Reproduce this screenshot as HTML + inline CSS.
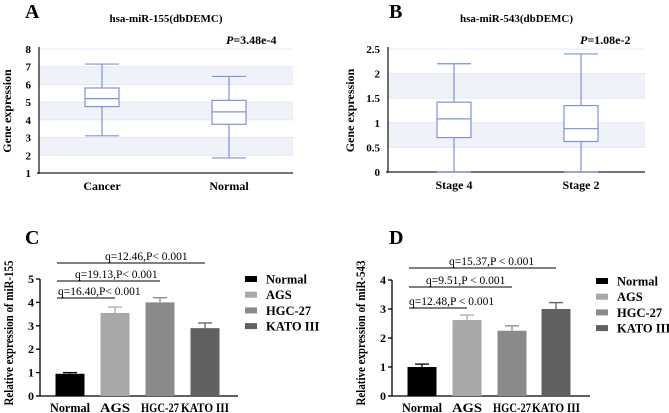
<!DOCTYPE html>
<html><head><meta charset="utf-8"><style>
body{margin:0;background:#fff}
svg{display:block;font-family:"Liberation Serif",serif}
text{font-family:"Liberation Serif",serif}
</style></head><body>
<svg id="s" width="669" height="413" viewBox="0 0 669 413"></svg>
<script>
const boxCatsA=["Cancer","Normal"];
const boxStatsA=[[3.1,4.75,5.2,5.8,7.15],[1.85,3.75,4.45,5.1,6.45]];
const ticksA=[1,2,3,4,5,6,7,8];
const boxCatsB=["Stage 4","Stage 2"];
const boxStatsB=[[0,0.7,1.08,1.42,2.2],[0,0.62,0.88,1.35,2.4]];
const ticksB=[0,0.5,1,1.5,2,2.5];
const barCats=["Normal","AGS","HGC-27","KATO III"];
const barColors=["#000","#a8a8a8","#8a8a8a","#606060"];
const valsC=[0.95,3.55,4.0,2.9];
const errC=[0.05,0.25,0.2,0.22];
const ticksC=[0,1,2,3,4,5];
const sigC=["q=16.40,P< 0.001","q=19.13,P< 0.001","q=12.46,P< 0.001"];
const valsD=[1.0,2.62,2.25,3.0];
const errD=[0.1,0.17,0.17,0.22];
const ticksD=[0,1,2,3,4];
const sigD=["q=12.48,P < 0.001","q=9.51,P < 0.001","q=15.37,P < 0.001"];

const S=document.getElementById('s');const NS="http://www.w3.org/2000/svg";
function mk(t,a,txt,name,parent){const e=document.createElementNS(NS,t);for(const k in a)e.setAttribute(k,a[k]);if(txt!=null)e.textContent=txt;


(parent||S).appendChild(e);return e;}

function boxPanel(o){
  const y=v=>o.y0+(v-o.vmin)/(o.vmax-o.vmin)*(o.y1-o.y0);
  const t=o.ticks;
  for(let i=0;i<t.length-1;i++){ if((t.length-2-i)%2==1) mk('rect',{x:o.x0,y:y(t[i+1]),width:o.x1-o.x0,height:y(t[i])-y(t[i+1]),fill:'#f0f2f9'},null,'grid-band');}
  t.forEach(v=>{ if(v!==o.vmin) mk('line',{x1:o.x0,x2:o.x1,y1:y(v),y2:y(v),stroke:'#dfe3f1','stroke-width':0.8},null,'grid-line');
    mk('text',{x:o.x0-8,y:y(v)+4,'text-anchor':'end','font-size':11,'font-weight':'bold'},String(v),'y-tick-label');});
  mk('line',{x1:o.x0,x2:o.x0,y1:o.y1-2,y2:o.y0+1,stroke:'#222','stroke-width':1.3},null,'y-axis');
  mk('line',{x1:o.x0-2,x2:o.x1,y1:o.y0,y2:o.y0,stroke:'#222','stroke-width':1.3},null,'x-axis');
  o.cats.forEach((c,i)=>{const cx=o.cx[i],s=o.stats[i],hw=17,c2='#7b93dc';
    mk('line',{x1:cx,x2:cx,y1:y(s[0]),y2:y(s[4]),stroke:c2,'stroke-width':1.2},null,'whisker');
    mk('line',{x1:cx-hw,x2:cx+hw,y1:y(s[4]),y2:y(s[4]),stroke:c2,'stroke-width':1.2},null,'whisker-cap-max');
    mk('line',{x1:cx-hw,x2:cx+hw,y1:y(s[0]),y2:y(s[0]),stroke:c2,'stroke-width':1.2},null,'whisker-cap-min');
    mk('rect',{x:cx-hw,y:y(s[3]),width:2*hw,height:y(s[1])-y(s[3]),fill:'#fff',stroke:c2,'stroke-width':1.2},null,'box-'+c.toLowerCase().replace(/\s/g,'-'));
    mk('line',{x1:cx-hw,x2:cx+hw,y1:y(s[2]),y2:y(s[2]),stroke:c2,'stroke-width':1.2},null,'median');
    mk('text',{x:cx,y:o.y0+17,'text-anchor':'middle','font-size':12,'font-weight':'bold'},c,'x-tick-label');});
  mk('text',{x:o.lx,y:18,'font-size':20,'font-weight':'bold'},o.letter,'panel-label');
  mk('text',{x:(o.x0+o.x1)/2,y:22,'text-anchor':'middle','font-size':11,'font-weight':'bold'},o.title,'chart-title');
  const p=mk('text',{x:o.px,y:44,'font-size':12,'font-weight':'bold'},null,'p-value');
  mk('tspan',{'font-style':'italic'},'P','p-symbol',p);mk('tspan',{},o.ptxt,'p-text',p);
  mk('text',{x:o.yt,y:(o.y0+o.y1)/2,'text-anchor':'middle','font-size':12,'font-weight':'bold',transform:`rotate(-90 ${o.yt} ${(o.y0+o.y1)/2})`},'Gene expression','y-axis-title');
}
boxPanel({x0:39,x1:293,y0:173,y1:49,vmin:1,vmax:8,ticks:ticksA,cats:boxCatsA,stats:boxStatsA,cx:[102,229],letter:'A',lx:25,title:'hsa-miR-155(dbDEMC)',px:226,ptxt:'=3.48e-4',yt:11});
boxPanel({x0:388,x1:645,y0:172,y1:49,vmin:0,vmax:2.5,ticks:ticksB,cats:boxCatsB,stats:boxStatsB,cx:[454,581],letter:'B',lx:389,title:'hsa-miR-543(dbDEMC)',px:580,ptxt:'=1.08e-2',yt:354});

const labelW=[40,30,38,48];
function barPanel(o){
  const y=v=>o.y0-v/o.vmax*(o.y0-o.y1);
  o.ticks.forEach(v=>{mk('line',{x1:o.x0-4,x2:o.x0,y1:y(v),y2:y(v),stroke:'#000','stroke-width':1.3},null,'y-tick');
    mk('text',{x:o.x0-6,y:y(v)+4,'text-anchor':'end','font-size':12,'font-weight':'bold'},String(v),'y-tick-label');});
  mk('line',{x1:o.x0,x2:o.x0,y1:o.y0,y2:o.y1,stroke:'#000','stroke-width':1.3},null,'y-axis');
  mk('line',{x1:o.x0,x2:o.x0+198,y1:o.y0,y2:o.y0,stroke:'#000','stroke-width':1.3},null,'x-axis');
  const bw=29;
  barCats.forEach((c,i)=>{const cx=o.bx[i];
    mk('line',{x1:cx,x2:cx,y1:y(o.vals[i]),y2:y(o.vals[i]+o.err[i]),stroke:barColors[i],'stroke-width':1.3},null,'error-bar');
    mk('line',{x1:cx-7,x2:cx+7,y1:y(o.vals[i]+o.err[i]),y2:y(o.vals[i]+o.err[i]),stroke:barColors[i],'stroke-width':1.3},null,'error-cap');
    mk('rect',{x:cx-bw/2,y:y(o.vals[i]),width:bw,height:y(0)-y(o.vals[i]),fill:barColors[i]},null,'bar-'+c.toLowerCase().replace(/\s/g,'-'));
    mk('text',{x:cx-labelW[i]/2,y:o.y0+16,'font-size':13,'font-weight':'bold',textLength:labelW[i],lengthAdjust:'spacingAndGlyphs'},c,'x-tick-label');
    mk('rect',{x:o.lgx,y:o.lgy+i*15.7-3,width:12,height:6,fill:barColors[i]},null,'legend-swatch');
    mk('text',{x:o.lgx+21,y:o.lgy+i*15.7+4.5,'font-size':12.5,'font-weight':'bold'},c,'legend-entry');});
  o.sig.forEach((s,k)=>{const ly=o.sy[k],x2=o.bx[k+1];
    mk('line',{x1:o.bx[0]-13,x2:x2,y1:ly,y2:ly,stroke:'#000','stroke-width':1},null,'significance-line');
    mk('text',{x:o.sx[k],y:ly-3,'font-size':11.5},s,'significance-label');});
  mk('text',{x:o.lx,y:244,'font-size':20,'font-weight':'bold'},o.letter,'panel-label');
  const yc=333;
  mk('text',{x:o.yt,y:yc,'text-anchor':'middle','font-size':13,'font-weight':'bold',textLength:145,lengthAdjust:'spacingAndGlyphs',transform:`rotate(-90 ${o.yt} ${yc})`},o.ytitle,'y-axis-title');
}
barPanel({x0:40,y0:396,y1:279,vmax:5,ticks:ticksC,vals:valsC,err:errC,bx:[70,115,160,205],lgx:245,lgy:279,sig:sigC,sy:[298,281,263],sx:[58,75,105],letter:'C',lx:25,yt:13,ytitle:'Relative expression of miR-155'});
barPanel({x0:392,y0:396,y1:280,vmax:4,ticks:ticksD,vals:valsD,err:errD,bx:[422,467,512,556],lgx:596,lgy:281,sig:sigD,sy:[308,287,268],sx:[409,426,449],letter:'D',lx:389,yt:365,ytitle:'Relative expression of miR-543'});
</script>
</body></html>
